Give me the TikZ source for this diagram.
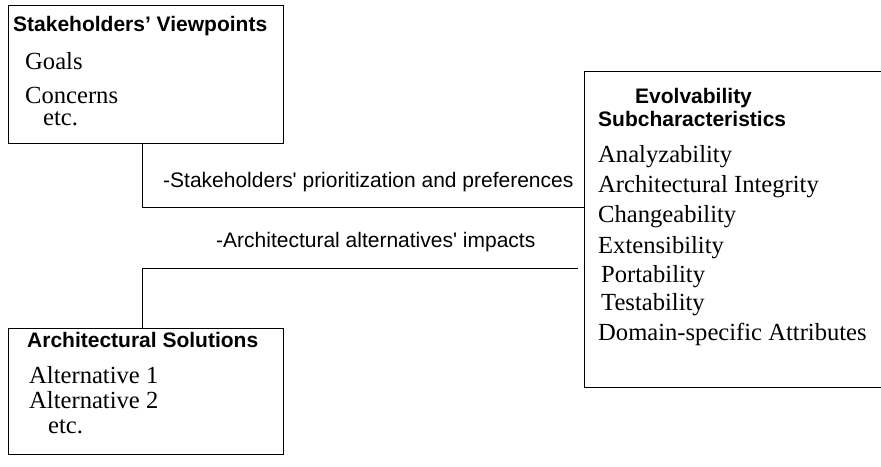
\documentclass[tikz,border=0pt]{standalone}
\usepackage{fontspec}
\setmainfont{Liberation Serif}
\newfontfamily\arialfont{Liberation Sans}
\begin{document}
\begin{tikzpicture}[x=1pt,y=-1pt,
  box/.style={draw,line width=1.3pt,inner sep=0pt,anchor=north west},
  hdr/.style={inner sep=0pt,anchor=base west,font=\arialfont\bfseries\fontsize{21}{25}\selectfont},
  itm/.style={inner sep=0pt,anchor=base west,font=\fontsize{24.6}{29.5}\selectfont},
  lbl/.style={inner sep=0pt,anchor=base west,font=\arialfont\fontsize{21}{25}\selectfont},
  conn/.style={line width=1pt}]
\clip[use as bounding box] (0,0) rectangle (881,466);
\fill[white] (0,0) rectangle (881,466);
% boxes
\node[box,minimum width=275pt,minimum height=138pt] (sv) at (8,5) {};
\node[box,minimum width=310pt,minimum height=316pt] (ev) at (584,71) {};
\node[box,minimum width=275pt,minimum height=126pt] (as) at (8,328) {};
% box 1 texts
\node[hdr] (svh) at (13,31) {Stakeholders’ Viewpoints};
\node[itm] (sv1) at (25,69) {Goals};
\node[itm] (sv2) at (25,103) {Concerns};
\node[itm] (sv3) at (43,125) {etc.};
% box 2 texts
\node[hdr] (evh1) at (635,103) {Evolvability};
\node[hdr] (evh2) at (598,126) {Subcharacteristics};
\node[itm] (ev1) at (598,162) {Analyzability};
\node[itm] (ev2) at (598,192) {Architectural Integrity};
\node[itm] (ev3) at (598,222) {Changeability};
\node[itm] (ev4) at (598,253) {Extensibility};
\node[itm] (ev5) at (601,282) {Portability};
\node[itm] (ev6) at (601,310) {Testability};
\node[itm] (ev7) at (598,340) {Domain-specific Attributes};
% box 3 texts
\node[hdr] (ash) at (27,347) {Architectural Solutions};
\node[itm] (as1) at (29,383) {Alternative 1};
\node[itm] (as2) at (29,408) {Alternative 2};
\node[itm] (as3) at (48,433) {etc.};
% connectors
\coordinate (j1) at (142,207);
\coordinate (j2) at (142,268);
\coordinate (e2) at (578,268);
\draw[conn] (sv.south -| j1) |- (ev.west |- j1);
\draw[conn] (e2) -- (j2) -- (as.north -| j2);
% labels
\node[lbl] (l1) at (163,187) {-Stakeholders' prioritization and preferences};
\node[lbl] (l2) at (216,247) {-Architectural alternatives' impacts};
\end{tikzpicture}
\end{document}
